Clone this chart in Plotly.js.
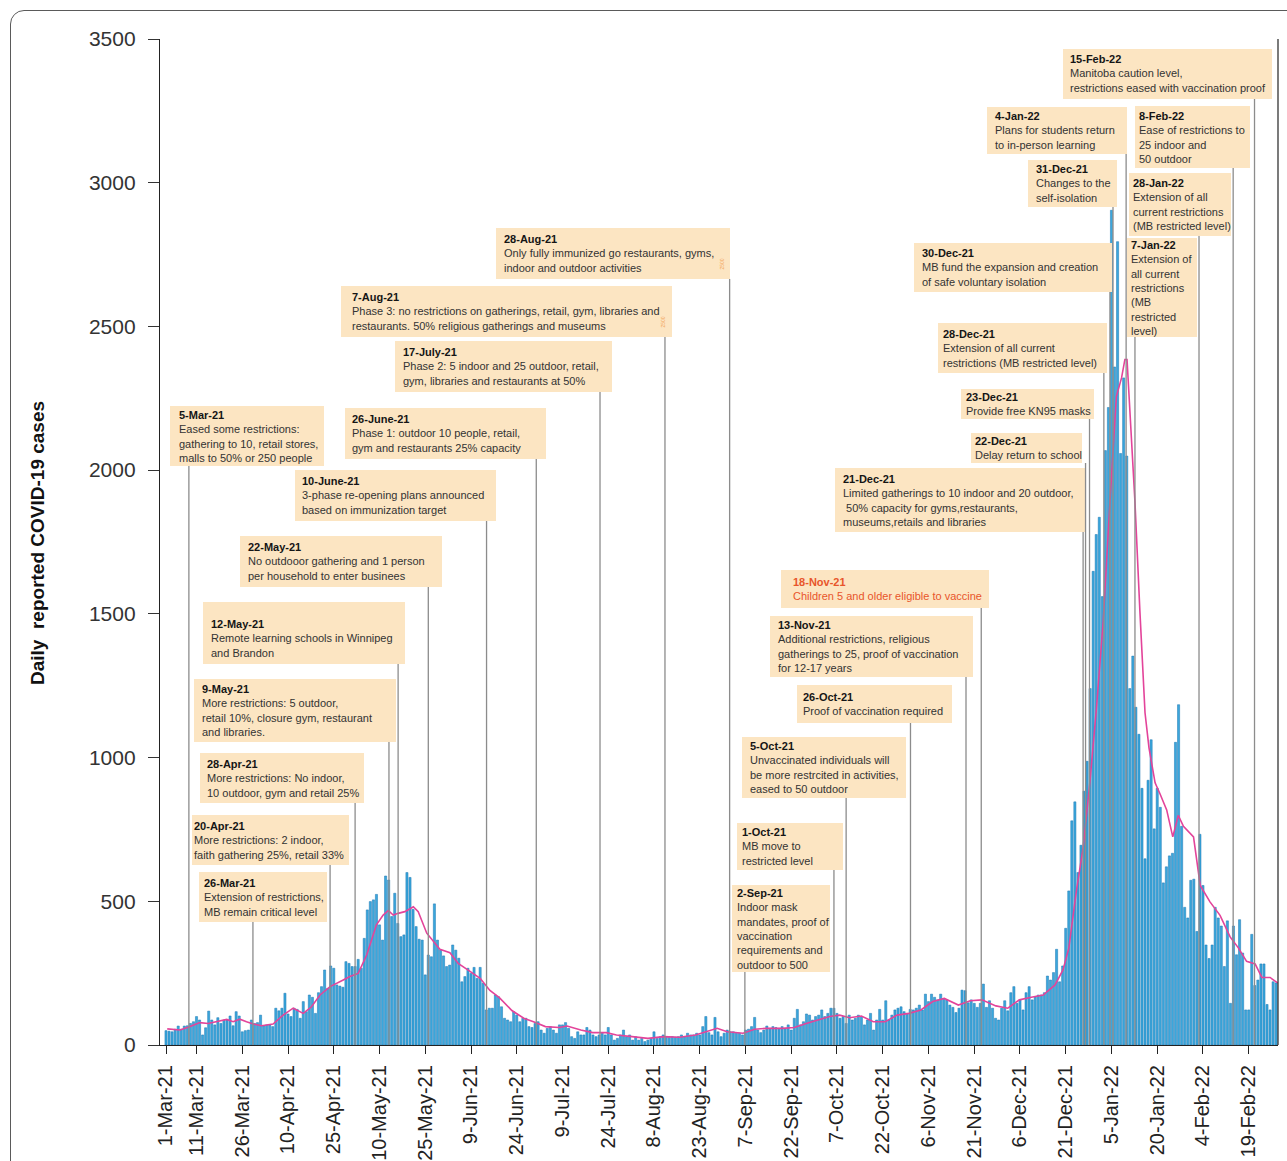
<!DOCTYPE html>
<html><head><meta charset="utf-8">
<script src="https://cdn.plot.ly/plotly-3.0.1.min.js"></script>
<style>
html,body{margin:0;padding:0;background:#fff;overflow:hidden;width:1287px;height:1161px}
#chart{position:absolute;left:0;top:0;width:1287px;height:1161px}
#frame{position:absolute;left:10px;top:10px;width:1300px;height:1200px;border:1.5px solid #5a5a5a;border-radius:14px;pointer-events:none;z-index:5}
</style></head><body>
<div id="chart"></div><div id="frame"></div>
<script>
// ---------------- DATA ----------------
const startDate = '2021-03-01';

// daily reported cases, one value per day from 1-Mar-21 to 28-Feb-22
const dailyCases = [
 50,48,46,55,66,55,66,67,75,81,
 99,87,35,60,118,87,70,95,75,87,
 87,101,67,116,101,46,50,52,87,75,
 78,104,66,70,70,64,128,119,128,180,
 108,99,128,124,93,151,116,174,166,110,
 182,203,261,197,275,267,209,205,201,290,
 284,273,273,298,267,371,470,499,505,524,
 418,365,588,574,447,528,423,377,383,600,
 583,472,412,368,365,244,313,307,491,
 365,330,310,273,278,348,330,302,220,238,
 267,249,270,232,270,215,122,128,128,
 174,168,133,93,87,81,116,104,81,93,
 93,64,61,75,81,52,41,58,64,52,
 41,70,70,78,58,29,23,46,35,35,
 61,52,35,29,35,41,35,61,35,17,
 23,35,52,29,35,17,29,17,23,12,
 17,23,46,23,29,35,29,27,29,
 27,29,35,29,41,35,35,41,35,64,
 99,43,35,96,46,29,41,52,46,46,
 41,41,35,52,55,64,96,52,43,52,
 66,58,64,61,58,64,58,70,52,
 93,124,70,81,108,104,87,99,104,122,
 99,110,128,128,110,93,99,75,104,87,
 93,104,99,70,87,110,52,87,124,87,
 154,87,104,122,128,133,116,110,124,122,
 128,139,122,177,151,177,166,157,177,162,
 157,139,131,113,128,191,189,147,157,145,
 131,145,212,131,154,128,93,87,128,154,
 119,182,203,145,157,122,182,203,157,168,
 174,174,182,240,226,252,333,220,275,406,
 536,780,846,600,695,883,987,1240,1648,1776,
 1836,1560,2068,2218,2904,2359,2795,2058,2321,2049,
 1240,1353,1175,1081,893,648,921,1062,752,893,
 827,564,620,658,667,1053,1184,761,479,442,
 573,577,395,733,555,348,301,348,479,442,
 414,273,432,145,414,314,436,320,122,122,
 385,207,226,282,282,141,122,220,216
];

// 7-day average line (day offset from start, cases)
const maDayOffset = [0.4,4.6,7.9,11.1,13.8,16.6,19.9,22,24.2,26.4,28.6,31.3,35.1,38.4,41.7,45,47.7,50.5,53.8,58.1,60.3,63,65.8,69,71.2,72.9,74.5,76.1,78.3,81.1,82.7,85.5,87.6,89.8,93.1,95.8,99.8,103,106.2,109.3,113.4,117.3,120.5,124.4,128.9,131.5,136,139.9,144.4,147.7,152.8,158,163.2,168.4,173.6,176.8,180.7,184,189.2,193,196.9,202.1,206,209.9,213.8,217.6,220.9,224.1,228,231.9,235.8,239.7,243.6,247.5,251.4,255.2,259.8,263.7,267.5,272.1,276,279.8,283.7,287.6,291.5,294.1,296,298.5,300.7,302.9,305.1,307.3,309.5,311.6,313.3,314.4,315.1,316,317.7,319.3,321,322.3,324.3,325.9,328.1,330.1,331.9,333.6,336.9,339.1,342.3,345.6,348.9,351.6,354.3,357.1,359.3,362,364.5];
const maCases = [56,52,64,78,75,81,89,81,90,81,73,67,73,104,128,110,133,174,203,226,238,249,313,418,452,468,452,458,464,481,464,389,360,333,321,284,255,232,190,165,120,93,81,64,61,66,52,43,43,35,29,23,29,27,35,46,58,46,41,55,58,58,61,75,87,99,104,95,101,81,81,104,110,122,151,162,139,154,157,136,128,157,166,174,209,261,336,536,686,912,1175,1476,1889,2256,2321,2385,2385,2227,1889,1513,1156,1034,912,874,818,724,799,761,724,555,498,451,376,338,291,282,235,235,216];

const tickDates = ['2021-03-01','2021-03-11','2021-03-26','2021-04-10','2021-04-25','2021-05-10','2021-05-25','2021-06-09','2021-06-24','2021-07-09','2021-07-24','2021-08-08','2021-08-23','2021-09-07','2021-09-22','2021-10-07','2021-10-22','2021-11-06','2021-11-21','2021-12-06','2021-12-21','2022-01-05','2022-01-20','2022-02-04','2022-02-19'];
const tickLabels = ['1-Mar-21','11-Mar-21','26-Mar-21','10-Apr-21','25-Apr-21','10-May-21','25-May-21','9-Jun-21','24-Jun-21','9-Jul-21','24-Jul-21','8-Aug-21','23-Aug-21','7-Sep-21','22-Sep-21','7-Oct-21','22-Oct-21','6-Nov-21','21-Nov-21','6-Dec-21','21-Dec-21','5-Jan-22','20-Jan-22','4-Feb-22','19-Feb-22'];

const eventDates = ['2021-03-05','2021-03-26','2021-04-20','2021-04-28','2021-05-09','2021-05-12','2021-05-22','2021-06-10','2021-06-26','2021-07-17','2021-08-07','2021-08-28','2021-09-02','2021-10-01','2021-10-05','2021-10-26','2021-11-13','2021-11-18','2021-12-21','2021-12-22','2021-12-23','2021-12-28','2021-12-30','2021-12-31','2022-01-04','2022-01-07','2022-01-28','2022-02-08','2022-02-15'];
const eventTitles = ['5-Mar-21','26-Mar-21','20-Apr-21','28-Apr-21','9-May-21','12-May-21','22-May-21','10-June-21','26-June-21','17-July-21','7-Aug-21','28-Aug-21','2-Sep-21','1-Oct-21','5-Oct-21','26-Oct-21','13-Nov-21','18-Nov-21','21-Dec-21','22-Dec-21','23-Dec-21','28-Dec-21','30-Dec-21','31-Dec-21','4-Jan-22','7-Jan-22','28-Jan-22','8-Feb-22','15-Feb-22'];
const eventTexts = [
 ['Eased some restrictions:','gathering to 10, retail stores,','malls to 50% or 250 people'],
 ['Extension of restrictions,','MB remain critical level'],
 ['More restrictions: 2 indoor,','faith gathering 25%, retail 33%'],
 ['More restrictions: No indoor,','10 outdoor, gym and retail 25%'],
 ['More restrictions: 5 outdoor,','retail 10%, closure gym, restaurant','and libraries.'],
 ['Remote learning schools in Winnipeg','and Brandon'],
 ['No outdooor gathering and 1 person','per household to enter businees'],
 ['3-phase re-opening plans announced','based on immunization target'],
 ['Phase 1: outdoor 10 people, retail,','gym and restaurants 25% capacity'],
 ['Phase 2: 5 indoor and 25 outdoor, retail,','gym, libraries and restaurants at 50%'],
 ['Phase 3: no restrictions on gatherings, retail, gym, libraries and','restaurants. 50% religious gatherings and museums'],
 ['Only fully immunized go restaurants, gyms,','indoor and outdoor activities'],
 ['Indoor mask','mandates, proof of','vaccination','requirements and','outdoor to 500'],
 ['MB move to','restricted level'],
 ['Unvaccinated individuals will','be more restrcited in activities,','eased to 50 outdoor'],
 ['Proof of vaccination required'],
 ['Additional restrictions, religious','gatherings to 25, proof of vaccination','for 12-17 years'],
 ['Children 5 and older eligible to vaccine'],
 ['Limited gatherings to 10 indoor and 20 outdoor,','\u00a050% capacity for gyms,restaurants,','museums,retails and libraries'],
 ['Delay return to school'],
 ['Provide free KN95 masks'],
 ['Extension of all current','restrictions (MB restricted level)'],
 ['MB fund the expansion and creation','of safe voluntary isolation'],
 ['Changes to the','self-isolation'],
 ['Plans for students return','to in-person learning'],
 ['Extension of','all current','restrictions','(MB','restricted','level)'],
 ['Extension of all','current restrictions','(MB restricted level)'],
 ['Ease of restrictions to','25 indoor and','50 outdoor'],
 ['Manitoba caution level,','restrictions eased with vaccination proof']
];

// ---------------- LAYOUT SPECS (pixel positions / styles) ----------------
// box: [left, top, right, bottom, textLeft, textCenterY(optional)], shift: days the leader line sits right of the event date
const boxSpec = [
 [170,406,324,466,179],[199,872,327,922,204],[192,815,349,865,194],[200,753,364,803,207],
 [194,679,396,742,202],[203,602,405,664,211,638],[240,536,442,587,248],[295,470,496,521,302],
 [345,408,546,459,352],[395,341,612,392,403],[341,286,672,337,352],[496,228,730,279,504],
 [732,885,830,972,737],[737,823,843,870,742],[742,737,906,798,750],[797,685,952,723,803],
 [770,616,973,677,778],[781,570,989,608,793],[835,468,1085,532,843],[971,433,1082,463,975],
 [961,389,1094,419,966],[938,323,1107,373,943],[914,243,1112,292,922],[1028,160,1117,207,1036],
 [987,107,1127,154,995],[1127,238,1197,337,1131],[1129,173,1231,236,1133],[1135,106,1250,168,1139],
 [1063,49,1272,99,1070]
];
const lineShift = [3.5,3.5,3.8,4.0,4.1,4.1,4.0,4.1,4.4,4.3,4.6,4.8,4.8,5.0,5.0,5.1,5.3,5.3,5.7,5.5,5.8,5.5,5.5,5.5,5.8,5.7,5.7,5.9,5.9];
const highlightEvent = '18-Nov-21';

const PL=160, PR=1278, PT=39, PB=1045;
const px = x => (x-PL)/(PR-PL);
const py = y => (PB-y)/(PB-PT);
const DAY = 86400000;
const t0 = Date.parse(startDate+'T00:00:00Z');
function fmt(ms){const s=new Date(ms).toISOString();return s.slice(0,10)+' '+s.slice(11,19);}
const FONT = 'Liberation Sans, Arial, Helvetica, sans-serif';

const barX = dailyCases.map((v,i)=>fmt(t0+i*DAY));
const maX = maDayOffset.map(d=>fmt(t0+d*DAY));

const traces = [
 {type:'bar', x:barX, y:dailyCases, marker:{color:'#3aa7dc', line:{color:'#1c77b2', width:0.5}}, hoverinfo:'skip'},
 {type:'scatter', mode:'lines', x:maX, y:maCases, line:{color:'#e3449a', width:1.6}, hoverinfo:'skip'}
];

const shapes = [];
const annotations = [];
boxSpec.forEach((b,i)=>{
  const [L,T,R,B,tx,tyOpt] = b;
  const ty = tyOpt || (T+B)/2;
  shapes.push({type:'rect', xref:'paper', yref:'paper', x0:px(L), x1:px(R), y0:py(B), y1:py(T),
    fillcolor:'#fce5c2', line:{width:0}, layer:'above'});
  const lx = fmt(Date.parse(eventDates[i]+'T00:00:00Z') + lineShift[i]*DAY);
  shapes.push({type:'line', xref:'x', yref:'paper', x0:lx, x1:lx, y0:0, y1:py(B),
    line:{color:'#8c8c8c', width:1.3}, layer:'above'});
  const hl = eventTitles[i]===highlightEvent;
  const col = hl ? '#e8552b' : '#333333';
  const titleCol = hl ? '#e8552b' : '#151515';
  const txt = '<b><span style="color:'+titleCol+'">'+eventTitles[i]+'</span></b><br>'+eventTexts[i].join('<br>');
  annotations.push({xref:'paper', yref:'paper', x:px(tx), y:py(ty), xanchor:'left', yanchor:'middle',
    align:'left', showarrow:false, text:txt, font:{family:FONT, size:11, color:col}, borderpad:0, borderwidth:0});
});

// tiny stray labels present in the original boxes
[[721,257],[663,315]].forEach(p=>{
  annotations.push({xref:'paper', yref:'paper', x:px(p[0]), y:py(p[1]), showarrow:false, text:'2500',
    textangle:-90, font:{family:FONT, size:5, color:'#f2a35a'}});
});

// y axis title
annotations.push({xref:'paper', yref:'paper', x:px(37), y:py(543), xanchor:'center', yanchor:'middle',
  showarrow:false, textangle:-90, text:'<b>Daily\u00a0 reported COVID-19 cases</b>',
  font:{family:FONT, size:19, color:'#111'}});

// right border of plot area
shapes.push({type:'line', xref:'paper', yref:'paper', x0:1, x1:1, y0:0, y1:1, line:{color:'#222', width:1.2}});

const layout = {
  width:1287, height:1161,
  margin:{l:PL, r:1287-PR, t:PT, b:1161-PB, pad:0},
  paper_bgcolor:'#ffffff', plot_bgcolor:'#ffffff',
  showlegend:false, bargap:0.3,
  font:{family:FONT, color:'#222'},
  xaxis:{type:'date', range:[fmt(t0-1.97*DAY), fmt(t0+364.6*DAY)],
    tickmode:'array', tickvals:tickDates, ticktext:tickLabels, tickangle:-90,
    ticks:'outside', ticklen:8, tickwidth:1, tickcolor:'#222',
    showline:true, linecolor:'#222', linewidth:1.2, showgrid:false, zeroline:false,
    tickfont:{family:FONT, size:20, color:'#222'}, ticklabelstandoff:3, automargin:false},
  yaxis:{range:[0,3500], tick0:0, dtick:500, ticks:'outside', ticklen:11, tickwidth:1, tickcolor:'#333',
    showline:true, linecolor:'#222', linewidth:1.2, showgrid:false, zeroline:false,
    tickfont:{family:FONT, size:21, color:'#333'}, ticklabelstandoff:8, automargin:false},
  shapes:shapes, annotations:annotations
};

Plotly.newPlot('chart', traces, layout, {staticPlot:true, displayModeBar:false});
</script></body></html>
